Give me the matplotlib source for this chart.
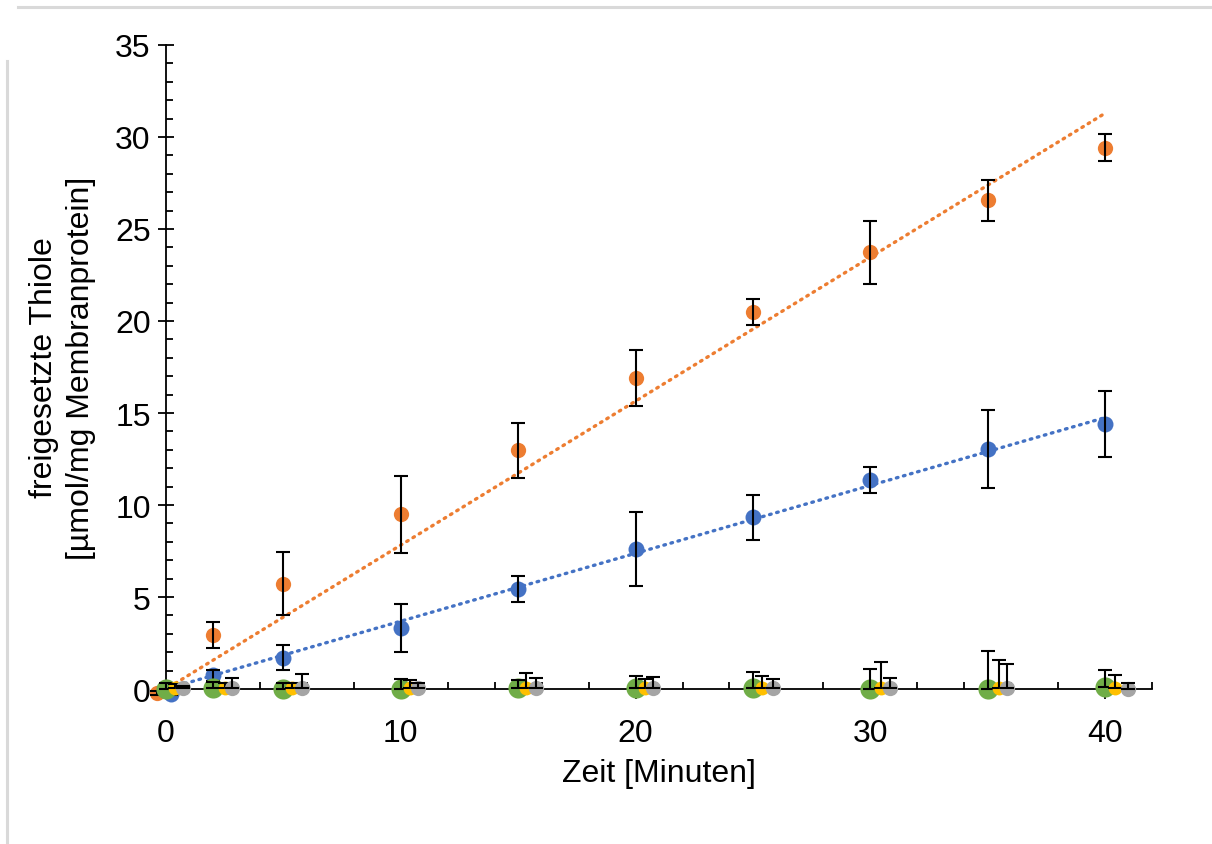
import numpy as np
import matplotlib
matplotlib.use('Agg')
import matplotlib.pyplot as plt
from matplotlib.lines import Line2D
from matplotlib.ticker import MultipleLocator

plt.rcParams['font.family'] = ['Liberation Sans', 'DejaVu Sans']

# Messzeitpunkte und Mittelwerte je Ansatz
x_orange = [-0.4, 2, 5, 10, 15, 20, 25, 30, 35, 40]
y_orange = [-0.2, 2.92, 5.73, 9.5, 12.97, 16.9, 20.5, 23.73, 26.55, 29.42]
e_orange = [0.1, 0.7, 1.7, 2.1, 1.5, 1.5, 0.7, 1.7, 1.1, 0.72]

x_blue = [0.2, 2, 5, 10, 15, 20, 25, 30, 35, 40]
y_blue = [-0.29, 0.74, 1.71, 3.3, 5.42, 7.6, 9.33, 11.34, 13.04, 14.4]
e_blue = [0.05, 0.3, 0.68, 1.3, 0.7, 2.0, 1.23, 0.7, 2.1, 1.8]

x_green = [0, 2, 5, 10, 15, 20, 25, 30, 35, 40]
y_green = [0.0, 0.05, 0.02, 0.02, 0.05, 0.05, 0.08, 0.02, 0.02, 0.1]
e_green = [0.35, 0.33, 0.3, 0.54, 0.45, 0.66, 0.84, 1.05, 2.05, 0.93]

x_yellow = [0.38, 2.5, 5.37, 10.4, 15.35, 20.4, 25.4, 30.45, 35.48, 40.43]
y_yellow = [0.05, 0.05, 0.05, 0.05, 0.05, 0.05, 0.05, 0.05, 0.05, 0.05]
e_yellow = [0.2, 0.3, 0.3, 0.42, 0.8, 0.48, 0.66, 1.44, 1.53, 0.69]

x_grey = [0.74, 2.83, 5.78, 10.73, 15.78, 20.75, 25.85, 30.83, 35.82, 40.97]
y_grey = [0.05, 0.05, 0.05, 0.05, 0.05, 0.05, 0.05, 0.05, 0.05, 0.0]
e_grey = [0.1, 0.57, 0.75, 0.3, 0.53, 0.6, 0.5, 0.57, 1.3, 0.33]

C_BLUE = '#4472C4'
C_ORANGE = '#ED7D31'
C_GREEN = '#70AD47'
C_YELLOW = '#FFC000'
C_GREY = '#A5A5A5'

fig = plt.figure(figsize=(12.12, 8.45), dpi=100)
ax = fig.add_axes([0.137, 0.1834, 0.8135, 0.7622])

# Rahmenlinien am Rand
fig.add_artist(Line2D([18 / 1212, 1.0], [1 - 8 / 845] * 2, color='#D9D9D9', lw=2.2))
fig.add_artist(Line2D([7 / 1212] * 2, [0, 1 - 62 / 845], color='#D9D9D9', lw=2.2))


def series(x, y, yerr, color, ms, z):
    ax.plot(x, y, 'o', color=color, markersize=ms, markeredgewidth=0,
            zorder=z, clip_on=False)
    ax.errorbar(x, y, yerr=yerr, fmt='none', ecolor='black', elinewidth=1.5,
                capsize=5, capthick=1.5, zorder=z + 0.5, clip_on=False)


def trend(x, y, color):
    # lineare Regression durch den Ursprung
    x = np.asarray(x, float)
    y = np.asarray(y, float)
    k = np.sum(x * y) / np.sum(x * x)
    xs = np.array([x.min(), x.max()])
    ax.plot(xs, k * xs, color=color, lw=2.4, linestyle=(0, (0.5, 1.7)),
            dash_capstyle='round', zorder=2, clip_on=False)


series(x_orange, y_orange, e_orange, C_ORANGE, 11, 3)
series(x_blue, y_blue, e_blue, C_BLUE, 11.5, 3)
trend(x_orange, y_orange, C_ORANGE)
trend(x_blue, y_blue, C_BLUE)

zeros = np.zeros(len(x_green))
series(x_green, y_green, [zeros, e_green], C_GREEN, 14.5, 5)
series(x_yellow, y_yellow, [zeros, e_yellow], C_YELLOW, 10, 6)
series(x_grey, y_grey, [zeros, e_grey], C_GREY, 11, 7)

ax.set_xlim(0, 42)
ax.set_ylim(0, 35)
for side in ['top', 'right']:
    ax.spines[side].set_visible(False)
for side in ['left', 'bottom']:
    ax.spines[side].set_linewidth(1.3)
    ax.spines[side].set_zorder(1)

ax.xaxis.set_major_locator(MultipleLocator(10))
ax.xaxis.set_minor_locator(MultipleLocator(2))
ax.yaxis.set_major_locator(MultipleLocator(5))
ax.yaxis.set_minor_locator(MultipleLocator(1))
ax.tick_params(axis='x', which='major', direction='out', length=7, width=1.3,
               labelsize=23, pad=14)
ax.tick_params(axis='x', which='minor', direction='in', length=5, width=1.3)
ax.tick_params(axis='y', which='major', direction='inout', length=12, width=1.3,
               labelsize=23, pad=5)
ax.tick_params(axis='y', which='minor', direction='in', length=5, width=1.3)

ax.set_xlabel('Zeit [Minuten]', fontsize=23, labelpad=7)
ax.set_ylabel('freigesetzte Thiole\n[µmol/mg Membranprotein]', fontsize=23,
              family=['Liberation Sans Narrow', 'Liberation Sans', 'DejaVu Sans'],
              linespacing=1.3, labelpad=14)

fig.savefig('out.png', dpi=100)
